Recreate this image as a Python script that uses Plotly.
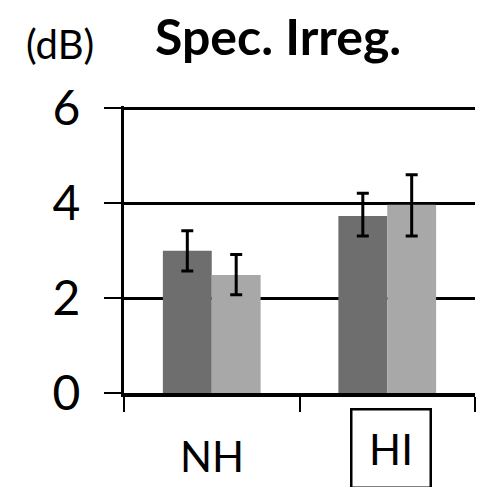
import plotly.graph_objects as go

categories = ["NH", "HI"]
series_dark = [3.00, 3.73]
series_dark_err_plus = [0.42, 0.48]
series_dark_err_minus = [0.43, 0.42]
series_light = [2.49, 3.97]
series_light_err_plus = [0.43, 0.63]
series_light_err_minus = [0.42, 0.66]
y_ticks = [0, 2, 4, 6]

FONT = "Lato, Open Sans, sans-serif"
xpos = list(range(len(categories)))

fig = go.Figure()
fig.add_trace(go.Bar(
    x=xpos, y=series_dark, marker=dict(color="#6e6e6e", line=dict(width=0)),
    error_y=dict(type="data", symmetric=False, array=series_dark_err_plus,
                 arrayminus=series_dark_err_minus, color="black", thickness=3, width=6),
))
fig.add_trace(go.Bar(
    x=xpos, y=series_light, marker=dict(color="#a8a8a8", line=dict(width=0)),
    error_y=dict(type="data", symmetric=False, array=series_light_err_plus,
                 arrayminus=series_light_err_minus, color="black", thickness=3, width=6),
))

fig.update_layout(
    width=478, height=487,
    margin=dict(l=124, r=3, t=106, b=94),
    paper_bgcolor="white", plot_bgcolor="white",
    barmode="group", bargap=0.443, bargroupgap=0,
    showlegend=False,
    font=dict(family=FONT, color="black"),
    xaxis=dict(
        range=[-0.5, len(categories) - 0.5],
        tickvals=[i - 0.5 for i in range(len(categories) + 1)],
        ticktext=["" for _ in range(len(categories) + 1)],
        ticks="outside", ticklen=15, tickwidth=2, tickcolor="black",
        showline=True, linecolor="black", linewidth=4,
        showgrid=False, zeroline=False,
    ),
    yaxis=dict(
        range=[0, 6.05], tickvals=y_ticks,
        ticks="outside", ticklen=17, tickwidth=2, tickcolor="black",
        showline=True, linecolor="black", linewidth=3,
        showgrid=True, gridcolor="black", gridwidth=2.5,
        zeroline=False,
        tickfont=dict(size=48, family=FONT, color="black"),
        ticklabelstandoff=14,
    ),
)

fig.add_annotation(text="<b>Spec. Irreg.</b>", xref="paper", yref="paper",
                   x=0.44, y=1.245, xanchor="center", yanchor="middle", showarrow=False,
                   font=dict(size=50, family=FONT, color="black"))
fig.add_annotation(text="(dB)", xref="paper", yref="paper",
                   x=-0.182, y=1.215, xanchor="center", yanchor="middle", showarrow=False,
                   font=dict(size=40, family=FONT, color="black"))
fig.add_annotation(text=categories[0], xref="x", yref="paper",
                   x=xpos[0], y=-0.22, xanchor="center", yanchor="middle", showarrow=False,
                   font=dict(size=42, family=FONT, color="black"))
fig.add_annotation(text=categories[1], xref="x", yref="paper",
                   x=xpos[1] + 0.02, y=-0.194, xanchor="center", yanchor="middle",
                   showarrow=False,
                   width=77, height=76, borderpad=0, borderwidth=2.5, bordercolor="black",
                   valign="middle",
                   font=dict(size=42, family=FONT, color="black"))

fig.write_html("out.html")
